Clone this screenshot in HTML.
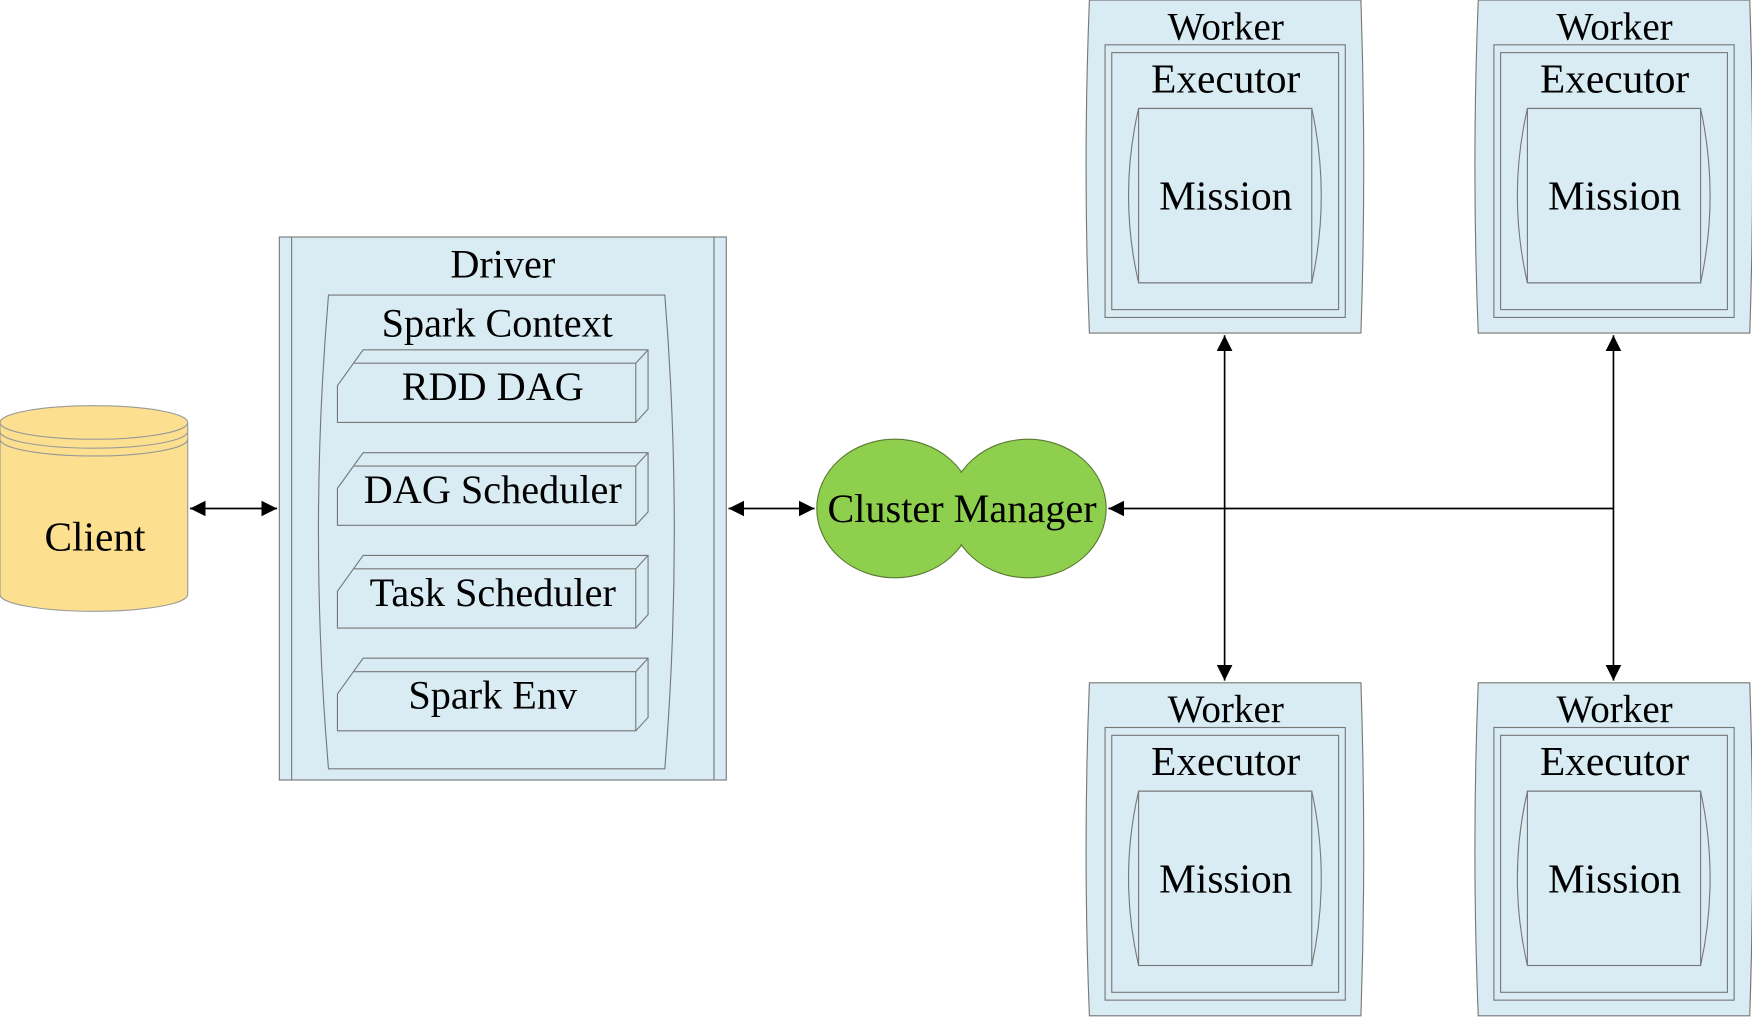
<!DOCTYPE html>
<html><head><meta charset="utf-8"><style>
html,body{margin:0;padding:0;background:#fff}
svg{display:block}
text{font-family:"Liberation Serif",serif;fill:#000;text-anchor:middle;dominant-baseline:central}
</style></head><body>
<svg width="1752" height="1017" viewBox="0 0 1568 910" xmlns="http://www.w3.org/2000/svg">
<defs>
<marker id="a" viewBox="0 0 10 10" refX="10" refY="5" markerWidth="14" markerHeight="14" markerUnits="userSpaceOnUse" orient="auto-start-reverse"><path d="M0,0L10,5L0,10z" fill="#000"/></marker>
<g id="worker">
<path d="M0,0 L243,0 Q248,150 243,298 L0,298 Q-6,150 0,0Z" fill="#d9ecf3" stroke="#777"/>
<rect x="14" y="40" width="215" height="244" fill="#d9ecf3" stroke="#777"/>
<rect x="20" y="47" width="203" height="230" fill="#d9ecf3" stroke="#777"/>
<path d="M44,97 L199,97 Q216,175 199,253 L44,253 Q26,175 44,97Z" fill="#d9ecf3" stroke="#777"/>
<rect x="44" y="97" width="155" height="156" fill="#d9ecf3" stroke="#777"/>
<text x="122" y="24" font-size="35">Worker</text>
<text x="122" y="70" font-size="37">Executor</text>
<text x="122" y="175" font-size="37">Mission</text>
</g>
<g id="box">
<path d="M302,345 L325,313 L580,313 L580,366 L569,378 L302,378Z" fill="#d9ecf3" stroke="#777"/>
<path d="M317,325 L569,325 L580,313 M569,325 L569,378" fill="none" stroke="#777"/>
</g>
</defs>
<!-- Client -->
<path d="M0,378 L0,532 A84,15 0 0 0 168,532 L168,378" fill="#fde08f" stroke="#999"/>
<ellipse cx="84" cy="378" rx="84" ry="15" fill="#fde08f" stroke="#999"/>
<path d="M0,386 A84,15 0 0 0 168,386 M0,393 A84,15 0 0 0 168,393" fill="none" stroke="#999"/>
<text x="85" y="480" font-size="37">Client</text>
<line x1="170" y1="455" x2="248" y2="455" stroke="#000" stroke-width="1.5" marker-start="url(#a)" marker-end="url(#a)"/>
<!-- Driver -->
<rect x="250" y="212" width="400" height="486" fill="#d9ecf3" stroke="#777"/>
<line x1="261" y1="212" x2="261" y2="698" stroke="#777"/>
<line x1="639" y1="212" x2="639" y2="698" stroke="#777"/>
<text x="450" y="236" font-size="36">Driver</text>
<path d="M294,264 L595,264 Q612,476 595,688 L294,688 Q276,476 294,264Z" fill="#d9ecf3" stroke="#777"/>
<text x="445" y="289" font-size="36">Spark Context</text>
<use href="#box"/>
<use href="#box" y="92"/>
<use href="#box" y="184"/>
<use href="#box" y="276"/>
<text x="441" y="346" font-size="36">RDD DAG</text>
<text x="441" y="438" font-size="36">DAG Scheduler</text>
<text x="441" y="530" font-size="36">Task Scheduler</text>
<text x="441" y="622" font-size="36">Spark Env</text>
<line x1="652" y1="455" x2="729" y2="455" stroke="#000" stroke-width="1.5" marker-start="url(#a)" marker-end="url(#a)"/>
<!-- Cluster manager -->
<ellipse cx="801" cy="455" rx="70" ry="62" fill="#8fcf4e" stroke="#5a7a33"/>
<ellipse cx="920" cy="455" rx="70" ry="62" fill="#8fcf4e" stroke="#5a7a33"/>
<ellipse cx="801" cy="455" rx="69" ry="61" fill="#8fcf4e"/>
<text x="861" y="455" font-size="36">Cluster Manager</text>
<line x1="1444" y1="455" x2="992" y2="455" stroke="#000" stroke-width="1.5" marker-end="url(#a)"/>
<line x1="1096" y1="300" x2="1096" y2="609" stroke="#000" stroke-width="1.5" marker-start="url(#a)" marker-end="url(#a)"/>
<line x1="1444" y1="300" x2="1444" y2="609" stroke="#000" stroke-width="1.5" marker-start="url(#a)" marker-end="url(#a)"/>
<use href="#worker" x="975" y="0"/>
<use href="#worker" x="1323" y="0"/>
<use href="#worker" x="975" y="611"/>
<use href="#worker" x="1323" y="611"/>
</svg>
</body></html>
